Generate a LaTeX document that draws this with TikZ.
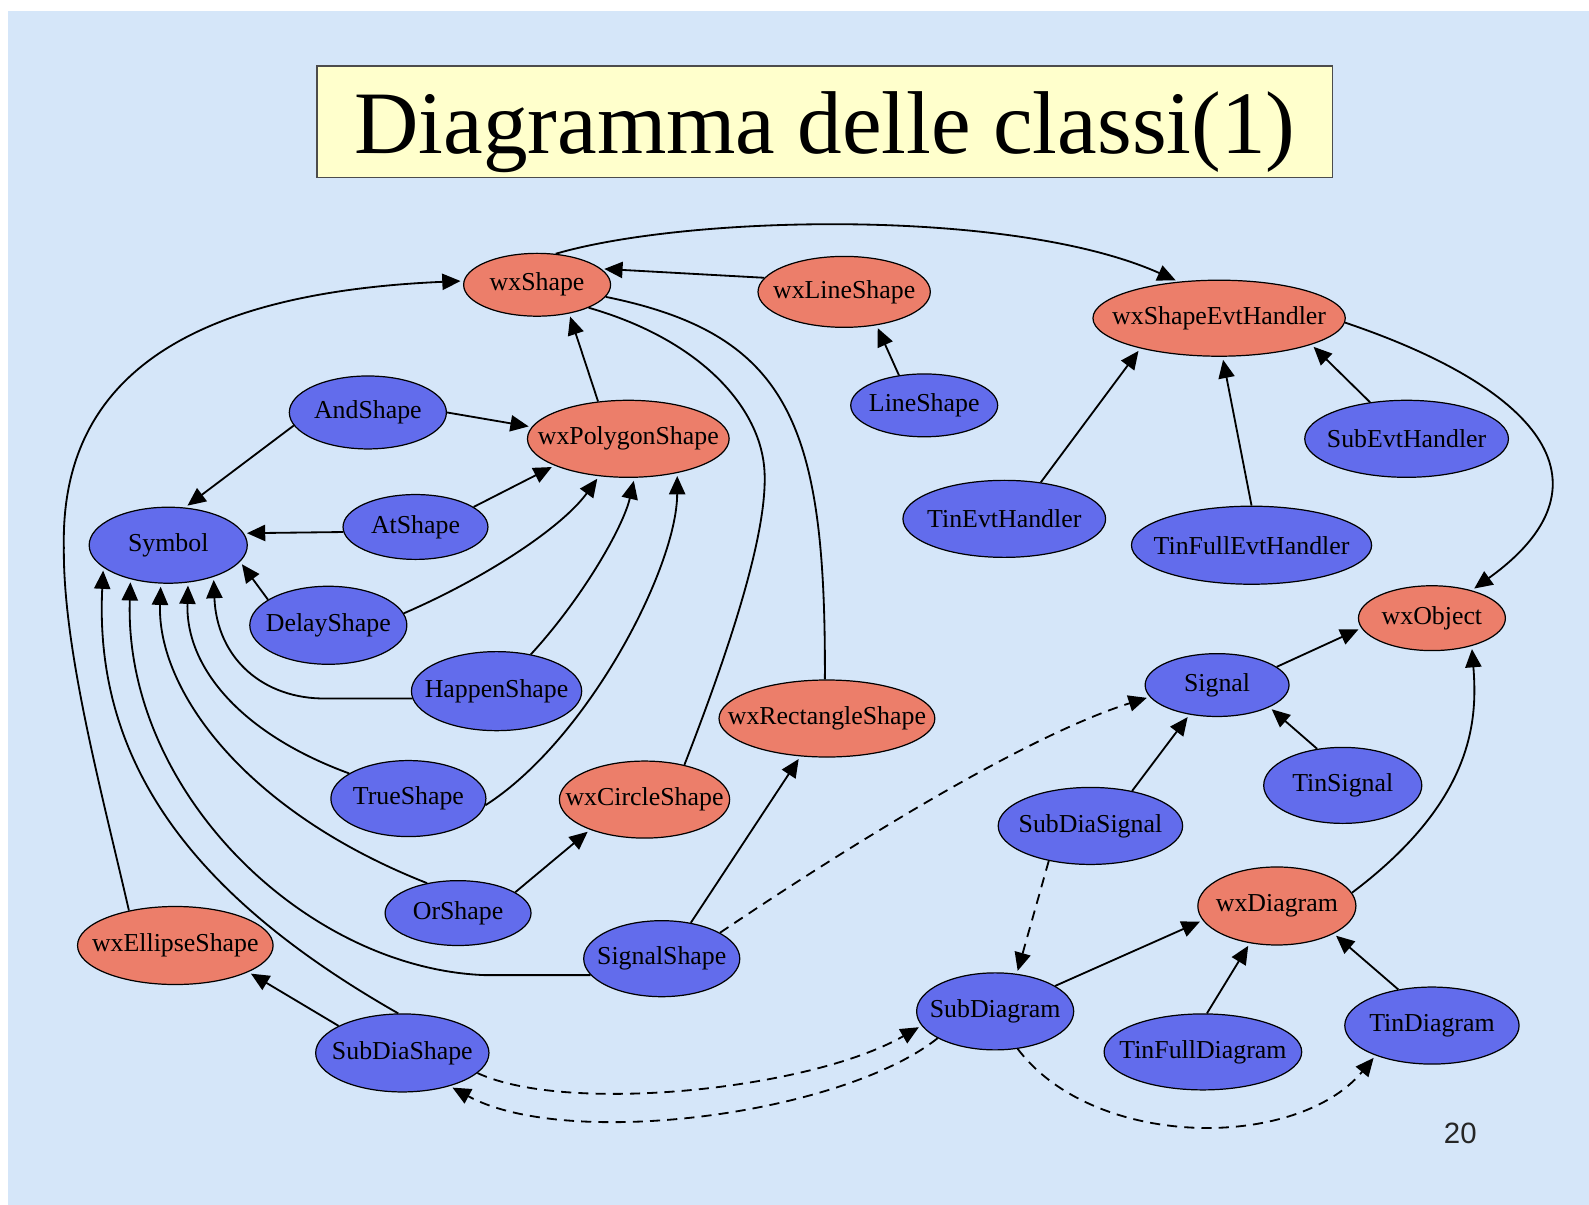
\documentclass[tikz,border=0pt]{standalone}
\usepackage{fontspec}
\setmainfont{Liberation Serif}
\newfontfamily\pagenumfont{Liberation Sans}
\usetikzlibrary{arrows.meta,shapes.geometric}
\definecolor{slidebg}{RGB}{213,230,249}
\definecolor{titlebg}{RGB}{255,255,204}
\definecolor{clsfill}{RGB}{236,126,106}
\definecolor{symfill}{RGB}{98,108,236}
\newcommand\classfont{\fontsize{25.5}{28}\selectfont}

\begin{document}
\begin{tikzpicture}[x=1pt,y=-1pt,
  cls/.style={ellipse,draw=black,line width=1.2pt,fill=clsfill,inner sep=0pt,minimum height=76pt,font=\classfont,
    execute at begin node=\hbox to 0pt\bgroup\hss,execute at end node=\hss\egroup},
  sym/.style={cls,fill=symfill},
  link/.style={line width=1.8pt,shorten >=3pt,-{Triangle[length=18pt,width=16pt]}},
  bare/.style={line width=1.8pt},
  dep/.style={link,dash pattern=on 10pt off 7pt}]
  % slide and title
  \useasboundingbox (0,0) rectangle (1568,1189);
  \fill[white] (0,0) rectangle (1568,1189);
  \fill[slidebg] (8,11) rectangle (1568,1189);
  \node[draw=black!70,line width=1.5pt,fill=titlebg,minimum width=1002pt,minimum height=110pt,inner sep=0pt] (title) at (814,120) {};
  \node[font=\fontsize{88}{90}\selectfont,anchor=base] (titletext) at ([yshift=-31pt]title.center) {Diagramma delle classi(1)};
  % classes
  \node[cls,minimum width=145pt,minimum height=62pt] (wxShape) at (530,281) {wxShape};
  \node[cls,minimum width=170pt,minimum height=70pt] (wxLineShape) at (833,288) {wxLineShape};
  \node[cls,minimum width=249pt,minimum height=75pt] (wxShapeEvtHandler) at (1203,314) {wxShapeEvtHandler};
  \node[sym,minimum width=145pt,minimum height=62pt] (LineShape) at (912,400) {LineShape};
  \node[sym,minimum width=155pt,minimum height=72pt] (AndShape) at (363,407) {AndShape};
  \node[cls,minimum width=199pt] (wxPolygonShape) at (620,433) {wxPolygonShape};
  \node[sym,minimum width=201pt] (SubEvtHandler) at (1388,433) {SubEvtHandler};
  \node[sym,minimum width=156pt,minimum height=75pt] (Symbol) at (166,538) {Symbol};
  \node[sym,minimum width=143pt,minimum height=64pt] (AtShape) at (410,520) {AtShape};
  \node[sym,minimum width=200pt] (TinEvtHandler) at (991,512) {TinEvtHandler};
  \node[sym,minimum width=237pt,minimum height=77pt] (TinFullEvtHandler) at (1235,538) {TinFullEvtHandler};
  \node[sym,minimum width=155pt,minimum height=77pt] (DelayShape) at (324,617) {DelayShape};
  \node[cls,minimum width=145pt,minimum height=64pt] (wxObject) at (1413,610) {wxObject};
  \node[sym,minimum width=168pt,minimum height=78pt] (HappenShape) at (490,682) {HappenShape};
  \node[sym,minimum width=142pt,minimum height=62pt] (Signal) at (1201,676) {Signal};
  \node[cls,minimum width=213pt] (wxRectangleShape) at (816,709) {wxRectangleShape};
  \node[sym,minimum width=153pt,minimum height=75pt] (TrueShape) at (403,788) {TrueShape};
  \node[cls,minimum width=168pt] (wxCircleShape) at (636,789) {wxCircleShape};
  \node[sym,minimum width=156pt,minimum height=75pt] (TinSignal) at (1325,775) {TinSignal};
  \node[sym,minimum width=182pt] (SubDiaSignal) at (1076,815) {SubDiaSignal};
  \node[sym,minimum width=144pt,minimum height=64pt] (OrShape) at (452,901) {OrShape};
  \node[cls,minimum width=156pt,minimum height=77pt] (wxDiagram) at (1260,894) {wxDiagram};
  \node[cls,minimum width=193pt,minimum height=77pt] (wxEllipseShape) at (173,933) {wxEllipseShape};
  \node[sym,minimum width=154pt,minimum height=75pt] (SignalShape) at (653,946) {SignalShape};
  \node[sym,minimum width=171pt,minimum height=77pt] (SubDiaShape) at (397,1039) {SubDiaShape};
  \node[sym,minimum width=155pt] (SubDiagram) at (982,998) {SubDiagram};
  \node[sym,minimum width=195pt,minimum height=75pt] (TinFullDiagram) at (1187,1038) {TinFullDiagram};
  \node[sym,minimum width=172pt] (TinDiagram) at (1413,1012) {TinDiagram};
  \node[font=\pagenumfont\fontsize{29}{30}\selectfont,text=black!85] (pagenum) at (1441,1118) {20};
  % shape hierarchy
  \draw[link] (wxShape.59) .. controls (680,212) and (1000,205) .. (wxShapeEvtHandler.138);
  \draw[link] (wxLineShape.170) -- (wxShape.14);
  \draw[link] (LineShape.130) -- (wxLineShape.-46);
  \draw[link] (wxPolygonShape.129) -- (wxShape.-42);
  \draw[link] (AndShape.0) -- (wxPolygonShape.173);
  \draw[link] (AndShape.190) -- (Symbol.66);
  \draw[link] (AtShape.184) -- (Symbol.9);
  \draw[link] (AtShape.19) -- (wxPolygonShape.200);
  \draw[link] (DelayShape.157) -- (Symbol.-13);
  \draw[link] (DelayShape.9) .. controls (480,570) and (555,520) .. (wxPolygonShape.232);
  \draw[link] (HappenShape.47) .. controls (575,590) and (615,520) .. (wxPolygonShape.-81);
  \draw[link] (HappenShape.185) -- +(-85,0) .. controls (260,690) and (214,650) .. (Symbol.-35);
  \draw[link] (TrueShape.-5) .. controls (580,730) and (668,560) .. (wxPolygonShape.-35);
  \draw[link] (TrueShape.157) .. controls (240,725) and (183,660) .. (Symbol.-62);
  \draw[bare] (wxCircleShape.41) .. controls (720,640) and (760,520) .. (754,460)
    .. controls (748,400) and (690,335) .. (wxShape.-24);
  \draw[bare] (wxRectangleShape.93) .. controls (815,420) and (780,330) .. (wxShape.-10);
  \draw[link] (OrShape.20) -- (wxCircleShape.209);
  \draw[link] (OrShape.136) .. controls (240,800) and (155,680) .. (Symbol.259);
  \draw[link] (SignalShape.51) -- (wxRectangleShape.235);
  \draw[link] (SignalShape.193) -- +(-105,0) .. controls (300,955) and (122,780) .. (Symbol.222);
  \draw[link] (SubDiaShape.96) .. controls (200,890) and (92,760) .. (Symbol.199);
  \draw[link] (SubDiaShape.157) -- (wxEllipseShape.-20);
  \draw[link] (wxEllipseShape.143) .. controls (100,780) and (62,640) .. (63,540)
    .. controls (60,390) and (160,290) .. (wxShape.177);
  % diagram and signal side
  \draw[dep] (SignalShape.24) .. controls (800,860) and (1000,730) .. (Signal.190);
  \draw[dep] (SubDiaShape.-15) .. controls (560,1100) and (800,1075) .. (SubDiagram.191);
  \draw[dep] (SubDiagram.205) .. controls (830,1100) and (560,1135) .. (SubDiaShape.-35);
  \draw[dep] (SubDiaSignal.220) -- (SubDiagram.60);
  \draw[dep] (SubDiagram.-59) .. controls (1080,1135) and (1280,1135) .. (TinDiagram.208);
  \draw[link] (SubDiagram.23) -- (wxDiagram.191);
  \draw[link] (TinFullDiagram.84) -- (wxDiagram.234);
  \draw[link] (TinDiagram.133) -- (wxDiagram.-26);
  \draw[link] (wxDiagram.10) .. controls (1455,790) and (1458,710) .. (wxObject.-35);
  \draw[link] (SubDiaSignal.40) -- (Signal.227);
  \draw[link] (TinSignal.125) -- (Signal.-23);
  \draw[link] (Signal.17) -- (wxObject.188);
  % event handlers
  \draw[link] (wxShapeEvtHandler.-2) .. controls (1525,385) and (1595,480) .. (wxObject.35);
  \draw[link] (TinEvtHandler.45) -- (wxShapeEvtHandler.201);
  \draw[link] (TinFullEvtHandler.90) -- (wxShapeEvtHandler.-85);
  \draw[link] (SubEvtHandler.135) -- (wxShapeEvtHandler.-16);
\end{tikzpicture}
\end{document}
